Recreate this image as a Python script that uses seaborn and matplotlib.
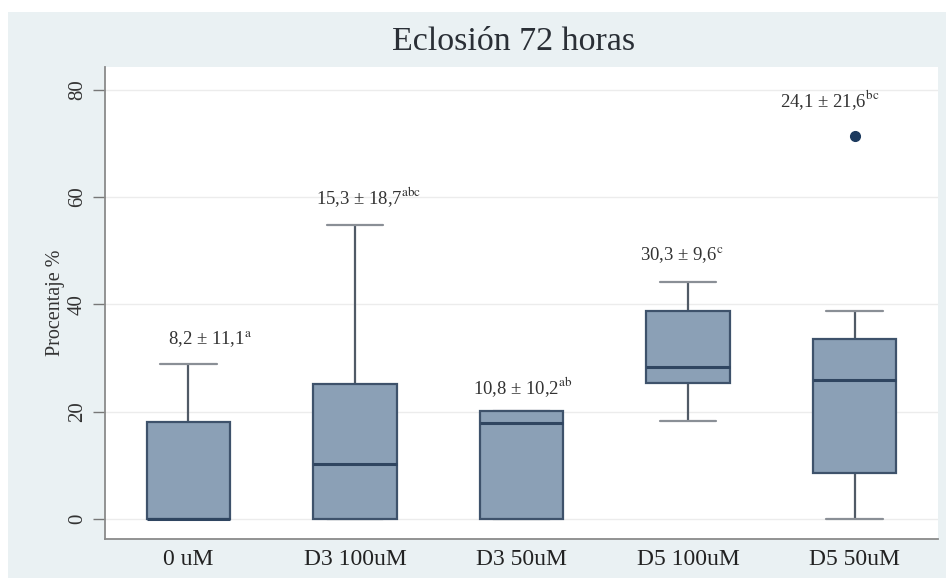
import numpy as np
import pandas as pd
import matplotlib
matplotlib.use("Agg")
import matplotlib.pyplot as plt
from matplotlib.patches import Rectangle
import seaborn as sns

# ---- data ----
groups = ["0 uM", "D3 100uM", "D3 50uM", "D5 100uM", "D5 50uM"]
whisk_lo = [0.0, 0.0, 0.0, 18.2, 0.0]
q1 = [0.0, 0.0, 0.0, 25.4, 8.6]
median = [0.0, 10.2, 17.9, 28.3, 26.0]
q3 = [18.1, 25.1, 20.1, 38.8, 33.6]
whisk_hi = [28.8, 54.7, 20.1, 44.1, 38.8]
outliers = [[], [], [], [], [71.4]]
means = ["8,2", "15,3", "10,8", "30,3", "24,1"]
sds = ["11,1", "18,7", "10,2", "9,6", "21,6"]
letters = ["a", "abc", "ab", "c", "bc"]
label_x = [0.13, 1.08, 2.01, 2.96, 3.85]
label_y = [33.3, 59.9, 24.6, 49.1, 78.0]
yticks = [0, 20, 40, 60, 80]

# Build a small sample per group whose quartiles/whiskers reproduce the box stats
rows = []
for g, lo, a, m, b, hi, out in zip(groups, whisk_lo, q1, median, q3, whisk_hi, outliers):
    vals = [lo, lo, a, a, m, b, b, hi]
    vals += out if out else [hi]
    rows += [(g, v) for v in vals]
df = pd.DataFrame(rows, columns=["grupo", "valor"])

sns.set_theme(style="white")
plt.rcParams["font.family"] = ["Liberation Serif", "DejaVu Serif"]
plt.rcParams["mathtext.fontset"] = "stix"

fig = plt.figure(figsize=(9.49, 5.82), dpi=100, facecolor="white")
bg = Rectangle((8 / 949, 4 / 582), 938 / 949, 566 / 582,
               transform=fig.transFigure, facecolor="#eaf1f3",
               edgecolor="none", zorder=-10)
fig.add_artist(bg)
ax = fig.add_axes([105 / 949, 43 / 582, 833 / 949, 472 / 582])
ax.set_zorder(5)
ax.set_facecolor("white")

box_fill = "#8ba0b6"
edge = "#3e526b"
sns.boxplot(data=df, x="grupo", y="valor", order=groups, ax=ax,
            width=0.5, whis=1.5, color=box_fill, saturation=1,
            linewidth=1.6, linecolor=edge, capwidths=0.34,
            boxprops=dict(facecolor=box_fill, edgecolor=edge),
            medianprops=dict(color="#2f4560", linewidth=2.2),
            whiskerprops=dict(color="#505a66", linewidth=1.6, zorder=1),
            capprops=dict(color="#8a8f96", linewidth=1.6, zorder=1),
            flierprops=dict(marker="o", markerfacecolor="#1c3a5e",
                            markeredgecolor="#1c3a5e", markersize=7))

for x, mn, sd, let, yy in zip(label_x, means, sds, letters, label_y):
    ax.text(x, yy, f"{mn} ± {sd}$^{{\\mathrm{{{let}}}}}$", ha="center",
            va="center", fontsize=13.5, color="#333333")

ax.set_xlim(-0.5, 4.5)
ax.set_ylim(-3.7, 84.2)
ax.set_yticks(yticks)
ax.set_yticklabels([str(t) for t in yticks], rotation=90, va="center",
                   fontsize=15, color="#333333")
ax.tick_params(axis="y", length=9, width=1, color="#777777", direction="out", left=True, pad=4)
ax.tick_params(axis="x", length=0, labelsize=17, labelcolor="#222222", pad=7)
ax.set_xlabel("")
ax.set_ylabel("Procentaje %", fontsize=14.5, color="#333333", labelpad=2)
ax.yaxis.grid(True, color="#ececec", linewidth=1)
ax.set_axisbelow(True)
for s in ["top", "right"]:
    ax.spines[s].set_visible(False)
for s in ["left", "bottom"]:
    ax.spines[s].set_color("#8a8a8a")
    ax.spines[s].set_linewidth(1.3)

fig.text(514 / 949, 1 - 42 / 582, "Eclosión 72 horas", ha="center", va="center",
         fontsize=24.5, color="#2a2f36")

fig.savefig("out.png", dpi=100, facecolor="white")
